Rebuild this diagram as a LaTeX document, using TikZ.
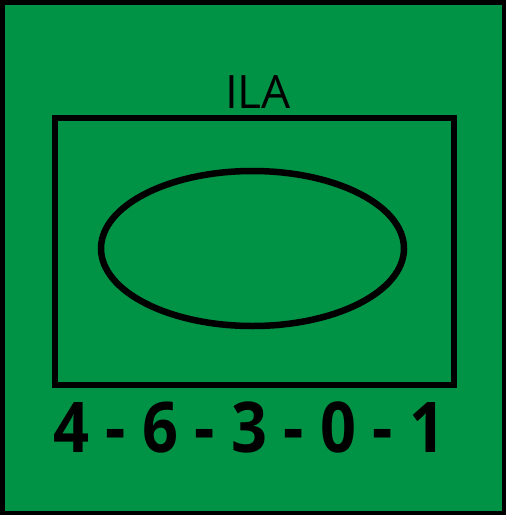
\documentclass[tikz,border=0pt]{standalone}
\usepackage{fontspec}
\setmainfont{Open Sans}
\definecolor{bggreen}{RGB}{0,146,69}
\begin{document}
\begin{tikzpicture}[x=1pt,y=-1pt,
  frame/.style={draw=black,line width=4.5pt},
  box/.style={draw=black,line width=6.5pt},
  lbl/.style={inner sep=0pt,anchor=base,text=black}]
\useasboundingbox (0,0) rectangle (506,515);
\fill[bggreen] (0,0) rectangle (506,515);
\draw[frame] (2.25,2.25) rectangle (503.75,512.75);
\draw[box] (55,118) rectangle (454,385);
\draw[box] (252.5,248.5) ellipse [x radius=151.5, y radius=77.5];
\node[lbl,font=\fontsize{46}{46}\selectfont] (ila) at (258,108) {ILA};
\node[lbl,font=\fontsize{70}{70}\selectfont\bfseries] (code) at (249,452) {\scalebox{0.9}[1]{4 - 6 - 3 - 0 - 1}};
\end{tikzpicture}
\end{document}
